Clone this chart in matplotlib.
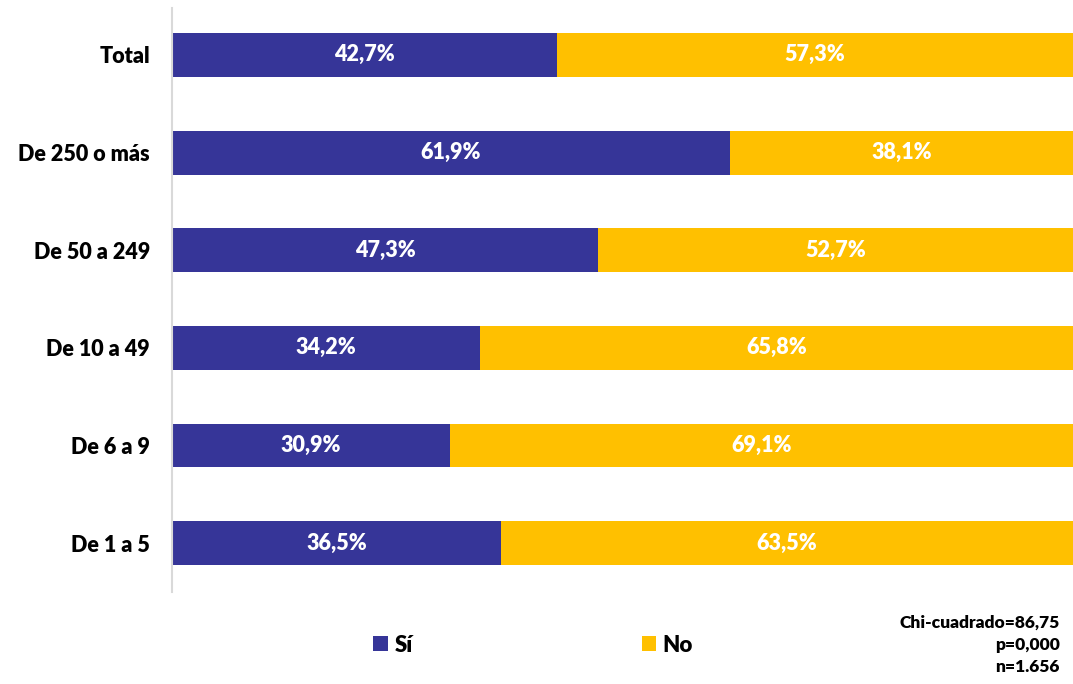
import matplotlib
matplotlib.use("Agg")
import matplotlib.pyplot as plt
import numpy as np

plt.rcParams['font.family'] = ['Lato', 'DejaVu Sans']
plt.rcParams['font.weight'] = 'bold'

categories = ['De 1 a 5', 'De 6 a 9', 'De 10 a 49', 'De 50 a 249', 'De 250 o más', 'Total']
si = [36.5, 30.9, 34.2, 47.3, 61.9, 42.7]
no = [63.5, 69.1, 65.8, 52.7, 38.1, 57.3]
series_names = ['Sí', 'No']
note = 'Chi-cuadrado=86,75\np=0,000\nn=1.656'

blue = '#363598'
yellow = '#FFC000'

fig = plt.figure(figsize=(10.73, 6.84), dpi=100)
ax = fig.add_axes([0.1603, 0.1345, 0.8397, 0.8538])

y = np.arange(len(categories))
b1 = ax.barh(y, si, height=0.45, color=blue, label=series_names[0])
b2 = ax.barh(y, no, left=si, height=0.45, color=yellow, label=series_names[1])

def fmt(v):
    return f'{v:.1f}%'.replace('.', ',')

for i in range(len(categories)):
    ax.text(si[i] / 2, y[i], fmt(si[i]), ha='center', va='center',
            color='white', fontsize=15.5, fontweight='heavy')
    ax.text(si[i] + no[i] / 2, y[i], fmt(no[i]), ha='center', va='center',
            color='white', fontsize=15.5, fontweight='heavy')

ax.set_xlim(0, 100)
ax.set_ylim(-0.5, 5.48)
ax.set_yticks(y)
ax.set_yticklabels(categories, fontsize=15.5, fontweight='heavy')
ax.tick_params(axis='y', length=0, pad=16)
ax.set_xticks([])
for s in ['top', 'right', 'bottom']:
    ax.spines[s].set_visible(False)
ax.spines['left'].set_color('#d9d9d9')
ax.spines['left'].set_linewidth(1.5)

fig.legend(handles=[b1, b2], loc='center', bbox_to_anchor=(0.497, 1 - 645 / 684),
           ncol=2, frameon=False, handlelength=0.65, handleheight=0.65,
           handletextpad=0.3, columnspacing=10.3, prop={'weight': 'heavy', 'size': 16})

fig.text(1060 / 1073, 1 - 645 / 684, note, ha='right', va='center',
         fontsize=12.5, fontweight='heavy', linespacing=1.45)

fig.savefig('out.png', dpi=100)
